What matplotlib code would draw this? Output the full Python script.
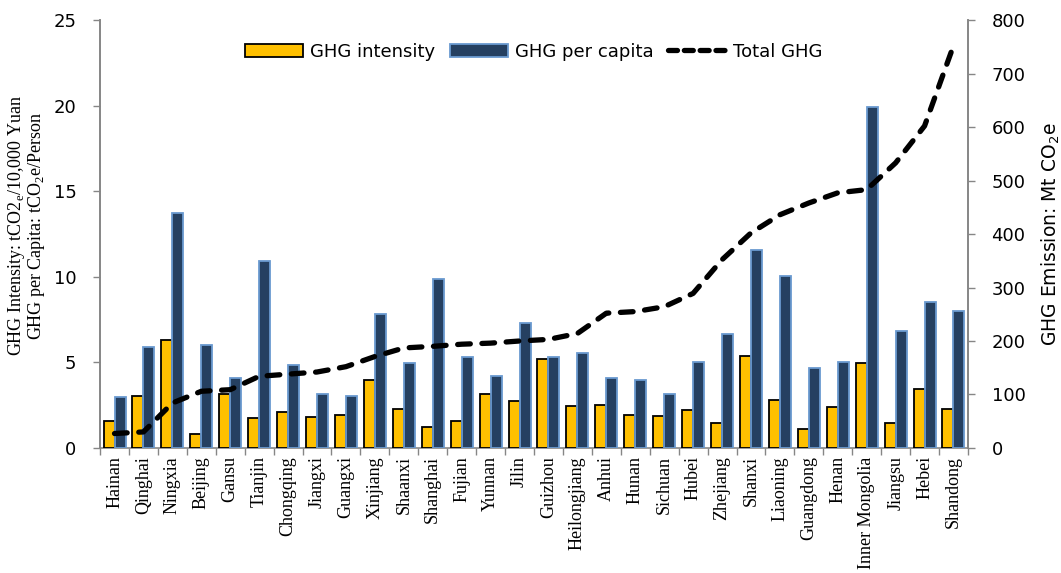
import matplotlib
matplotlib.use("Agg")
import matplotlib.pyplot as plt
import numpy as np
from matplotlib.lines import Line2D
from matplotlib.patches import Patch

provinces = ["Hainan", "Qinghai", "Ningxia", "Beijing", "Gansu", "Tianjin", "Chongqing",
             "Jiangxi", "Guangxi", "Xinjiang", "Shaanxi", "Shanghai", "Fujian", "Yunnan",
             "Jilin", "Guizhou", "Heilongjiang", "Anhui", "Hunan", "Sichuan", "Hubei",
             "Zhejiang", "Shanxi", "Liaoning", "Guangdong", "Henan", "Inner Mongolia",
             "Jiangsu", "Hebei", "Shandong"]
ghg_intensity = [1.56, 3.05, 6.31, 0.84, 3.18, 1.78, 2.11, 1.82, 1.91, 3.96, 2.30,
                 1.23, 1.56, 3.13, 2.73, 5.18, 2.46, 2.50, 1.93, 1.86, 2.21,
                 1.48, 5.37, 2.83, 1.13, 2.40, 4.94, 1.48, 3.46, 2.25]
ghg_per_capita = [2.99, 5.92, 13.73, 6.04, 4.06, 10.92, 4.84, 3.14, 3.05, 7.83, 4.98,
                  9.86, 5.29, 4.20, 7.29, 5.33, 5.57, 4.10, 3.96, 3.18, 5.00,
                  6.66, 11.54, 10.02, 4.69, 5.00, 19.90, 6.82, 8.54, 8.03]
total_ghg = [27, 30, 84, 106, 109, 134, 138, 142, 152, 171, 187,
             190, 194, 196, 200, 203, 214, 252, 255, 264, 289,
             352, 402, 436, 458, 477, 483, 533, 602, 752]

YELLOW = "#FFC000"
NAVY = "#254061"
NAVY_EDGE = "#6A9AD0"
GRAY = "#868686"
SANS = ["DejaVu Sans"]
SERIF = ["Liberation Serif", "DejaVu Serif"]

fig = plt.figure(figsize=(10.61, 5.73), dpi=100)
ax = fig.add_axes([0.0943, 0.2182, 0.8180, 0.7468])
ax2 = ax.twinx()

x = np.arange(len(provinces))
w = 0.38
ax.bar(x - w / 2, ghg_intensity, width=w, color=YELLOW, edgecolor="black", linewidth=1.3, zorder=3)
ax.bar(x + w / 2, ghg_per_capita, width=w, color=NAVY, edgecolor=NAVY_EDGE, linewidth=1.3, zorder=3)

ax.set_xlim(-0.5, len(provinces) - 0.5)
ax.set_ylim(0, 25)
ax2.set_ylim(0, 800)
ax.set_yticks(np.arange(0, 26, 5))
ax2.set_yticks(np.arange(0, 801, 100))

# Total GHG line drawn through the secondary scale, placed in front of the bars
ax.plot(x, total_ghg, color="black", linewidth=3.8, dashes=(2.4, 2.2),
        dash_capstyle="round", zorder=4, transform=ax2.transData, clip_on=False)

ax.set_xticks(x)
ax.set_xticklabels(provinces, rotation=90, family=SERIF, fontsize=13)
ax.set_xticks(np.arange(-0.5, len(provinces)), minor=True)
ax.tick_params(axis="x", which="major", length=0, pad=6)
ax.tick_params(axis="x", which="minor", length=5, color=GRAY, width=1)

for a in (ax, ax2):
    a.spines["top"].set_visible(False)
    for s in ("left", "right", "bottom"):
        a.spines[s].set_color(GRAY)
        a.spines[s].set_linewidth(1.2)
ax2.spines["bottom"].set_visible(False)
ax.tick_params(axis="y", length=5, color=GRAY, width=1, labelsize=13, pad=12)
ax2.tick_params(axis="y", length=5, color=GRAY, width=1, labelsize=13, pad=12)
for lab in ax.get_yticklabels() + ax2.get_yticklabels():
    lab.set_family(SANS)

ax.set_ylabel("GHG Intensity: tCO2$_\\mathregular{e}$/10,000 Yuan\nGHG per Capita: tCO$_\\mathregular{2}$e/Person",
              family=SERIF, fontsize=13, linespacing=0.95)
ax.yaxis.set_label_coords(-0.061, 0.52)
ax2.set_ylabel("GHG Emission: Mt CO$_\\mathregular{2}$e", family=SANS, fontsize=13.5, labelpad=10)

handles = [Patch(facecolor=YELLOW, edgecolor="black", linewidth=1.3),
           Patch(facecolor=NAVY, edgecolor=NAVY_EDGE, linewidth=1.3),
           Line2D([0], [0], color="black", linewidth=3.8, dashes=(1.7, 1.3), dash_capstyle="round")]
leg = ax.legend(handles, ["GHG intensity", "GHG per capita", "Total GHG"], loc="upper center",
                bbox_to_anchor=(0.5, 0.985), ncol=3, frameon=False, prop={"family": SANS, "size": 13},
                handlelength=3.2, handleheight=0.75, handletextpad=0.4, columnspacing=0.8)
ax.set_zorder(ax2.get_zorder() + 1)
ax.patch.set_visible(False)

fig.savefig("out.png", dpi=100)
